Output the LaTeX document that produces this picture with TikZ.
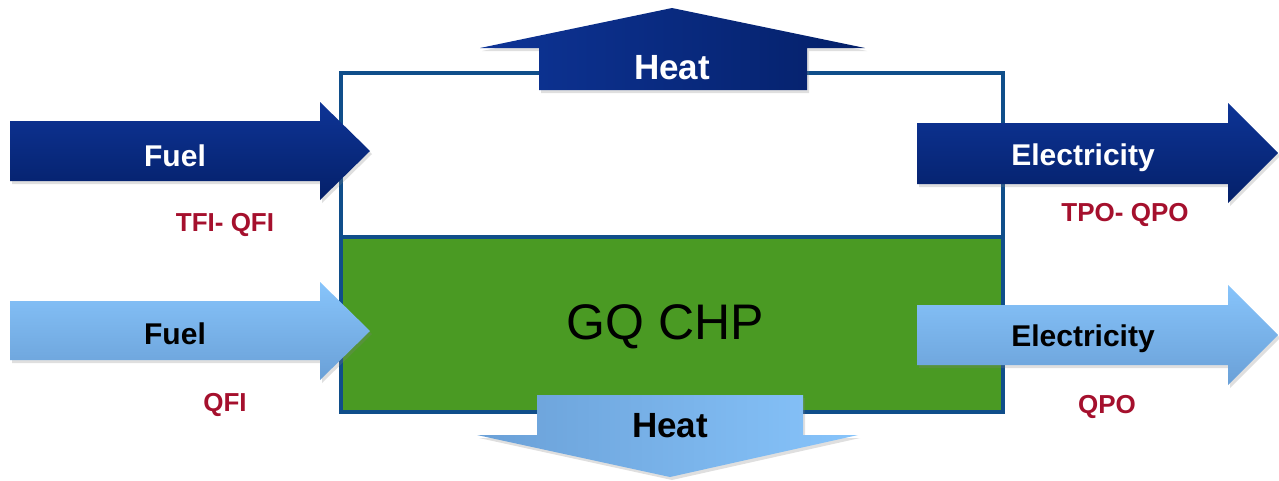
\documentclass[tikz,border=0pt]{standalone}
\usepackage{fontspec}
\setmainfont{Liberation Sans}
\usetikzlibrary{shadows}

\definecolor{boxblue}{RGB}{16,78,138}
\definecolor{chpgreen}{RGB}{74,154,35}
\definecolor{darkA}{RGB}{14,52,150}
\definecolor{darkB}{RGB}{4,32,105}
\definecolor{lightA}{RGB}{135,196,251}
\definecolor{lightB}{RGB}{106,160,215}
\definecolor{labelred}{RGB}{165,16,45}

\begin{document}
\begin{tikzpicture}[x=1pt,y=-1pt,
  arrowshadow/.style={drop shadow={opacity=0.25,shadow xshift=2pt,shadow yshift=-3pt}},
  darkarrow/.style={arrowshadow,top color=darkA,bottom color=darkB},
  lightarrow/.style={arrowshadow,top color=lightA,bottom color=lightB},
  flowtext/.style={font=\bfseries\fontsize{30}{32}\selectfont},
  heattext/.style={font=\bfseries\fontsize{35}{37}\selectfont},
  qtext/.style={text=labelred,font=\bfseries\fontsize{26}{28}\selectfont}]
\useasboundingbox (0,0) rectangle (1279,480);

% CHP box
\fill[chpgreen] (343,237) rectangle (1001,410);
\draw[boxblue,line width=4pt] (341,73) rectangle (1003,412);
\draw[boxblue,line width=4pt] (341,237) -- (1003,237);
\node[font=\fontsize{50}{52}\selectfont] (chp) at (665,327) {GQ CHP};

% Total (dark) flows
\path[arrowshadow,left color=darkA,right color=darkB]
  (539,90) -- (539,48) -- (480,48) -- (672,8) -- (865,48) -- (807,48) -- (807,90) -- cycle;
\path[darkarrow]
  (10,121) -- (320,121) -- (320,102) -- (370,151) -- (320,200) -- (320,181) -- (10,181) -- cycle;
\path[darkarrow]
  (917,123) -- (1228,123) -- (1228,103) -- (1278,153) -- (1228,203) -- (1228,184) -- (917,184) -- cycle;

% Qualifying (light) flows
\path[lightarrow]
  (10,301) -- (320,301) -- (320,282) -- (370,331) -- (320,380) -- (320,360) -- (10,360) -- cycle;
\path[lightarrow]
  (917,305) -- (1228,305) -- (1228,285) -- (1278,335) -- (1228,385) -- (1228,365) -- (917,365) -- cycle;
\path[arrowshadow,left color=lightB,right color=lightA]
  (537,395) -- (803,395) -- (803,435) -- (858,435) -- (670,477) -- (477,435) -- (537,435) -- cycle;

% Arrow texts
\node[heattext,white] (heatT) at (672,68) {Heat};
\node[flowtext,white] (fuelT) at (175,156) {Fuel};
\node[flowtext,white] (elecT) at (1083,158) {Electricity};
\node[flowtext] (fuelQ) at (175,334) {Fuel};
\node[flowtext] (elecQ) at (1083,339) {Electricity};
\node[heattext] (heatQ) at (670,426) {Heat};

% Labels
\node[qtext] (tfi) at (225,225) {TFI- QFI};
\node[qtext] (qfi) at (225,405) {QFI};
\node[qtext] (tpo) at (1125,215) {TPO- QPO};
\node[qtext] (qpo) at (1107,407) {QPO};
\end{tikzpicture}
\end{document}
